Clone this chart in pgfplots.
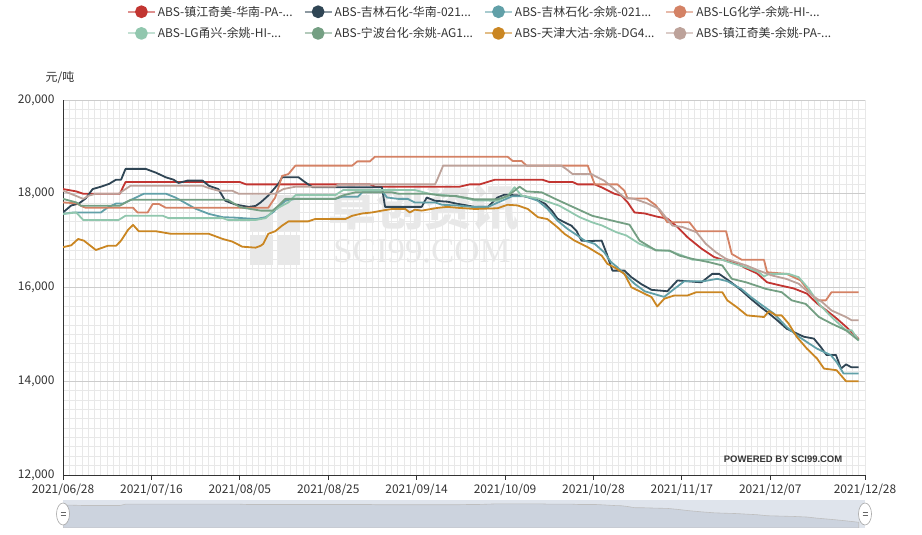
\documentclass[border=0pt]{standalone}
\usepackage{fontspec}
\setmainfont{Noto Sans CJK SC}
\newfontfamily\serifwm{Liberation Serif}
\newfontfamily\pwfont{Liberation Sans}
\usepackage{pgfplots}
\pgfplotsset{compat=1.18}
\usepackage{pgfplotstable}

\definecolor{c1}{HTML}{C23531}
\definecolor{c2}{HTML}{2F4554}
\definecolor{c3}{HTML}{61A0A8}
\definecolor{c4}{HTML}{D48265}
\definecolor{c5}{HTML}{91C7AE}
\definecolor{c6}{HTML}{749F83}
\definecolor{c7}{HTML}{CA8622}
\definecolor{c8}{HTML}{BDA29A}
\definecolor{txt}{HTML}{333333}
\definecolor{gridminor}{HTML}{E8E8E8}
\definecolor{gridmajor}{HTML}{CCCCCC}
\definecolor{wm}{HTML}{D6D6D6}
\definecolor{sliderbg}{HTML}{DFE4EC}
\definecolor{slidershadow}{HTML}{CCD3DE}

% x = trading-day index (0 = 2021/06/28, 126 = 2021/12/28), y = yuan/ton
\pgfplotstableread{
x y
0 18100
2.1 18050
3.2 18000
9.0 18000
9.9 18250
28 18250
29 18200
48.6 18200
49.4 18150
62.8 18150
64.4 18200
66.0 18200
68.4 18300
75.9 18300
77.0 18250
80.7 18250
81.5 18200
84.2 18200
85.4 18130
87.3 18000
88.4 17960
89.4 17820
90.5 17600
92.1 17580
94.1 17510
95.7 17470
97.3 17290
98.9 17070
101.1 16830
103.1 16650
104.7 16580
106.7 16510
108.3 16400
109.9 16300
111.5 16110
113.7 16040
115.7 15980
117.8 15870
119.4 15660
120.9 15510
122.5 15340
124.1 15150
126 14900
}\sone

\pgfplotstableread{
x y
0 17600
1.3 17750
2.5 17790
3.6 17900
4.7 18100
6.0 18150
7.3 18210
8.4 18300
9.2 18300
9.9 18530
13.1 18530
14.7 18450
16.3 18350
17.5 18300
18.3 18230
19.7 18280
22.1 18280
23.1 18170
24.6 18100
25.7 17850
27.3 17770
29.4 17720
30.5 17740
31.3 17815
32.5 17960
34.1 18210
34.7 18350
37.3 18350
38.4 18240
39.5 18140
50.5 18140
51.0 17720
56.8 17720
57.6 17920
58.9 17850
60.9 17830
62.3 17790
65.2 17720
67.3 17720
68.8 17920
69.9 17980
72.6 17960
74.7 17890
76.3 17790
77.4 17640
78.3 17470
79.4 17390
80.5 17320
81.3 17210
82.1 17000
83.1 16990
85.3 17000
86.1 16720
87.0 16360
88.9 16360
90.0 16220
91.6 16070
93.2 15950
95.7 15920
97.3 16150
101.1 16110
102.8 16290
103.9 16290
105.8 16110
107.4 15940
108.9 15760
110.5 15580
111.5 15480
113.1 15300
114.6 15120
115.7 15050
117.3 14950
118.9 14910
120.0 14730
120.9 14560
122.4 14560
123.2 14270
124.0 14360
124.8 14300
126 14300
}\stwo

\pgfplotstableread{
x y
0 17570
1.6 17600
6.0 17600
7.1 17710
8.4 17790
9.5 17790
11.1 17890
12.8 18000
16.3 18000
17.8 17920
19.4 17800
21.0 17680
23.1 17570
25.3 17500
27.3 17490
30.5 17460
32.1 17500
33.2 17600
34.1 17710
35.2 17850
36.8 17890
43.1 17890
44.2 17935
46.7 17935
47.4 18030
50.7 18030
51.3 17920
53.1 17890
54.6 17890
55.7 17815
58.9 17815
60.0 17765
62.3 17750
64.7 17720
67.3 17720
69.5 17850
71.1 17945
73.1 17950
75.2 17850
76.7 17680
78.3 17425
79.9 17250
81.5 17105
82.6 17000
84.2 16930
85.7 16750
86.8 16540
87.8 16430
88.9 16290
90.5 16080
92.1 15920
94.4 15830
95.2 15800
96.8 15970
98.4 16135
101.5 16135
103.6 16185
105.2 16135
107.4 15970
108.9 15800
110.5 15640
112.6 15440
114.6 15155
116.2 14980
117.8 14835
119.4 14695
121.6 14555
122.5 14410
123.6 14165
126 14165
}\sthree

\pgfplotstableread{
x y
0 17815
2.1 17795
3.2 17720
3.6 17700
11.1 17700
11.8 17600
13.4 17600
14.2 17780
15.2 17780
16.3 17700
32.5 17700
33.6 17920
34.7 18380
35.7 18420
36.8 18600
45.8 18600
46.6 18690
48.6 18690
49.4 18790
70.4 18790
71.2 18700
72.6 18700
73.4 18600
83.1 18600
83.7 18380
84.2 18200
87.8 18200
88.9 18065
89.4 17900
92.4 17900
93.9 17750
95.7 17390
99.2 17390
100.3 17200
105.0 17200
105.9 16715
107.5 16590
111.0 16590
111.5 16325
114.6 16290
116.8 16150
118.4 15865
119.4 15725
120.8 15725
121.7 15900
126 15900
}\sfour

\pgfplotstableread{
x y
0 17570
2.1 17600
3.2 17440
8.8 17440
9.9 17530
15.8 17530
16.7 17480
25.3 17480
26.1 17440
30.5 17440
32.1 17480
33.3 17640
34.7 17745
35.7 17815
36.8 17970
43.1 17970
44.4 18080
55.7 18080
58.0 18000
62.0 17950
65.2 17860
68.8 17850
70.4 17950
71.5 18140
72.6 17960
75.2 17900
78.6 17745
81.8 17500
83.8 17390
85.4 17320
87.6 17180
89.2 17110
91.3 16930
93.9 16800
96.0 16780
98.1 16680
99.7 16590
104.4 16590
105.9 16520
108.2 16430
110.2 16325
111.0 16235
111.8 16290
114.9 16290
116.5 16220
118.1 15970
119.7 15650
121.7 15370
124.0 15085
124.9 15085
126 14870
}\sfive

\pgfplotstableread{
x y
0 17890
2.1 17815
2.8 17745
9.0 17745
10.7 17870
26.1 17870
28.1 17710
31.3 17640
33.2 17640
34.1 17745
35.2 17890
43.1 17890
44.2 17960
46.3 18030
52.1 18030
53.1 18000
57.8 18000
60.0 17960
62.3 17950
65.2 17880
68.8 17880
70.4 17950
72.3 18150
73.4 18050
75.8 18030
77.8 17900
78.6 17850
83.8 17530
88.1 17390
89.7 17340
91.3 17000
93.9 16790
96.0 16790
97.6 16680
99.7 16610
102.3 16540
104.4 16470
105.9 16185
108.2 16110
111.3 15970
113.8 15900
115.4 15725
117.6 15650
119.7 15370
121.7 15230
124.0 15085
126 14870
}\ssix

\pgfplotstableread{
x y
0 16860
1.3 16900
2.4 17035
3.3 17000
5.2 16800
7.1 16890
8.4 16890
9.2 17000
10.3 17230
11.1 17335
12.0 17200
14.7 17200
17.1 17145
23.1 17145
25.3 17035
26.8 16980
28.4 16870
30.5 16850
31.3 16890
31.7 16930
32.5 17145
33.6 17200
34.7 17320
35.7 17410
38.8 17410
39.9 17460
44.7 17460
45.8 17530
47.4 17580
48.9 17600
50.5 17640
52.1 17675
54.2 17675
54.9 17600
55.7 17660
56.8 17640
59.4 17700
60.9 17720
62.5 17700
65.2 17675
68.8 17690
70.4 17765
72.0 17750
73.6 17675
75.2 17500
76.7 17460
78.3 17285
79.4 17145
81.0 17000
83.1 16860
85.3 16680
86.2 16505
87.3 16430
88.9 16290
90.0 16005
91.6 15900
93.2 15795
94.1 15595
95.2 15760
96.8 15830
98.9 15830
100.3 15900
104.4 15900
105.2 15725
106.7 15580
108.3 15405
111.0 15370
111.8 15495
112.9 15405
113.8 15405
114.9 15230
116.2 14945
117.8 14695
119.4 14485
120.5 14270
122.5 14235
124.0 14000
126 14000
}\sseven

\pgfplotstableread{
x y
0 18065
1.6 17980
3.2 17890
4.1 17960
5.2 18000
8.8 18000
10.7 18170
22.1 18170
23.1 18120
24.6 18065
26.8 18065
27.8 18000
33.6 18000
34.9 18100
36.8 18150
43.1 18150
43.6 18200
58.9 18200
59.2 18280
60.2 18600
78.9 18600
79.7 18525
80.7 18420
83.7 18420
84.2 18380
85.7 18280
87.3 18100
88.9 17920
90.5 17890
92.5 17795
94.4 17675
96.5 17320
98.1 17290
100.3 17180
101.8 16930
103.4 16750
105.0 16610
106.6 16540
108.2 16470
110.2 16360
112.3 16255
114.5 16185
116.5 16080
118.6 15830
120.2 15690
121.7 15510
124.0 15370
124.9 15300
126 15300
}\seight

\begin{document}
\begin{tikzpicture}
\begin{scope}[x=1bp,y=1bp]
\path (0,0) rectangle (922,535);
% watermark
\begin{scope}[opacity=0.55]
\fill[wm] (250,304) rectangle (273,340);
\fill[wm] (277,304) rectangle (300,340);
\fill[wm] (250,270) rectangle (273,300);
\fill[wm] (277,270) rectangle (300,300);
\node[wm, inner sep=0pt, font=\fontsize{48}{48}\selectfont\bfseries] at (424,327) {卓创资讯};
\node[wm, inner sep=0pt, font=\fontsize{35}{35}\selectfont\serifwm] at (422,284) {SCI99.COM};
\end{scope}
% data zoom slider background
\fill[sliderbg] (63,7) rectangle (865,35);
\node[text=txt, font=\fontsize{12}{14}\selectfont] at (60,457) {元/吨};
\end{scope}

\begin{axis}[
  at={(63bp,60bp)}, anchor=south west,
  scale only axis, width=802bp, height=375bp,
  xmin=0, xmax=127, ymin=12000, ymax=20000,
  scaled y ticks=false,
  axis x line*=bottom, axis y line*=left,
  axis line style={-, draw=txt, line width=0.8bp},
  xtick={0,14,28,42,56,70,84,98,112,127},
  xticklabels={2021/06/28,2021/07/16,2021/08/05,2021/08/25,2021/09/14,2021/10/09,2021/10/28,2021/11/17,2021/12/07,2021/12/28},
  ytick={12000,14000,16000,18000,20000},
  yticklabels={{12,000},{14,000},{16,000},{18,000},{20,000}},
  minor xtick={0,1,...,127},
  minor ytick={12000,12200,...,20000},
  grid=both,
  minor x grid style={draw=gridminor, line width=0.8bp},
  major x grid style={draw=gridminor, line width=0.8bp},
  minor y grid style={draw=gridminor, line width=0.8bp},
  major y grid style={draw=gridmajor, line width=0.8bp},
  tick align=outside, major tick length=5bp, minor tick length=0pt,
  xtick style={draw=txt, line width=0.8bp},
  ytick style={draw=none},
  tick label style={font=\fontsize{12}{14}\selectfont, text=txt},
  /pgf/number format/assume math mode=true,
  no markers,
  every axis plot/.append style={line width=1.8bp, line join=round},
  legend columns=4,
  legend cell align=left,
  legend style={at={(0.52,1.262)}, anchor=north, draw=none, fill=none,
    font=\fontsize{12}{14}\selectfont, text=txt, row sep=6bp,
    /tikz/every even column/.append style={column sep=9bp}},
  legend image code/.code={
    \draw[#1, opacity=0.55, line width=2bp] (0bp,0bp) -- (27bp,0bp);
    \fill[#1] (13.5bp,0bp) circle (5.5bp);
  },
]
\addplot[c1] table {\sone};
\addlegendentry{ABS-镇江奇美-华南-PA-...}
\addplot[c2] table {\stwo};
\addlegendentry{ABS-吉林石化-华南-021...}
\addplot[c3] table {\sthree};
\addlegendentry{ABS-吉林石化-余姚-021...}
\addplot[c4] table {\sfour};
\addlegendentry{ABS-LG化学-余姚-HI-...}
\addplot[c5] table {\sfive};
\addlegendentry{ABS-LG甬兴-余姚-HI-...}
\addplot[c6] table {\ssix};
\addlegendentry{ABS-宁波台化-余姚-AG1...}
\addplot[c7] table {\sseven};
\addlegendentry{ABS-天津大沽-余姚-DG4...}
\addplot[c8] table {\seight};
\addlegendentry{ABS-镇江奇美-余姚-PA-...}
\node[anchor=south east, text=txt, font=\pwfont\bfseries\fontsize{9.5}{10}\selectfont]
  at (rel axis cs:0.976,0.025) {POWERED BY SCI99.COM};
\end{axis}

\begin{axis}[
  at={(63bp,7bp)}, anchor=south west,
  scale only axis, width=802bp, height=28bp,
  xmin=0, xmax=127, ymin=13840, ymax=19025,
  hide axis, no markers,
]
\addplot[draw=black!25, fill=slidershadow, line width=0.6bp] table {\sone} \closedcycle;
\end{axis}

\begin{scope}[x=1bp,y=1bp]
\foreach \hx in {63,865}{
  \draw[black!35, fill=white, line width=0.6bp] (\hx,21) ellipse (6.5 and 11);
  \draw[black!60, line width=0.6bp] (\hx-2.5,22.2) -- (\hx+2.5,22.2) (\hx-2.5,19.8) -- (\hx+2.5,19.8);
}
\end{scope}
\end{tikzpicture}
\end{document}
